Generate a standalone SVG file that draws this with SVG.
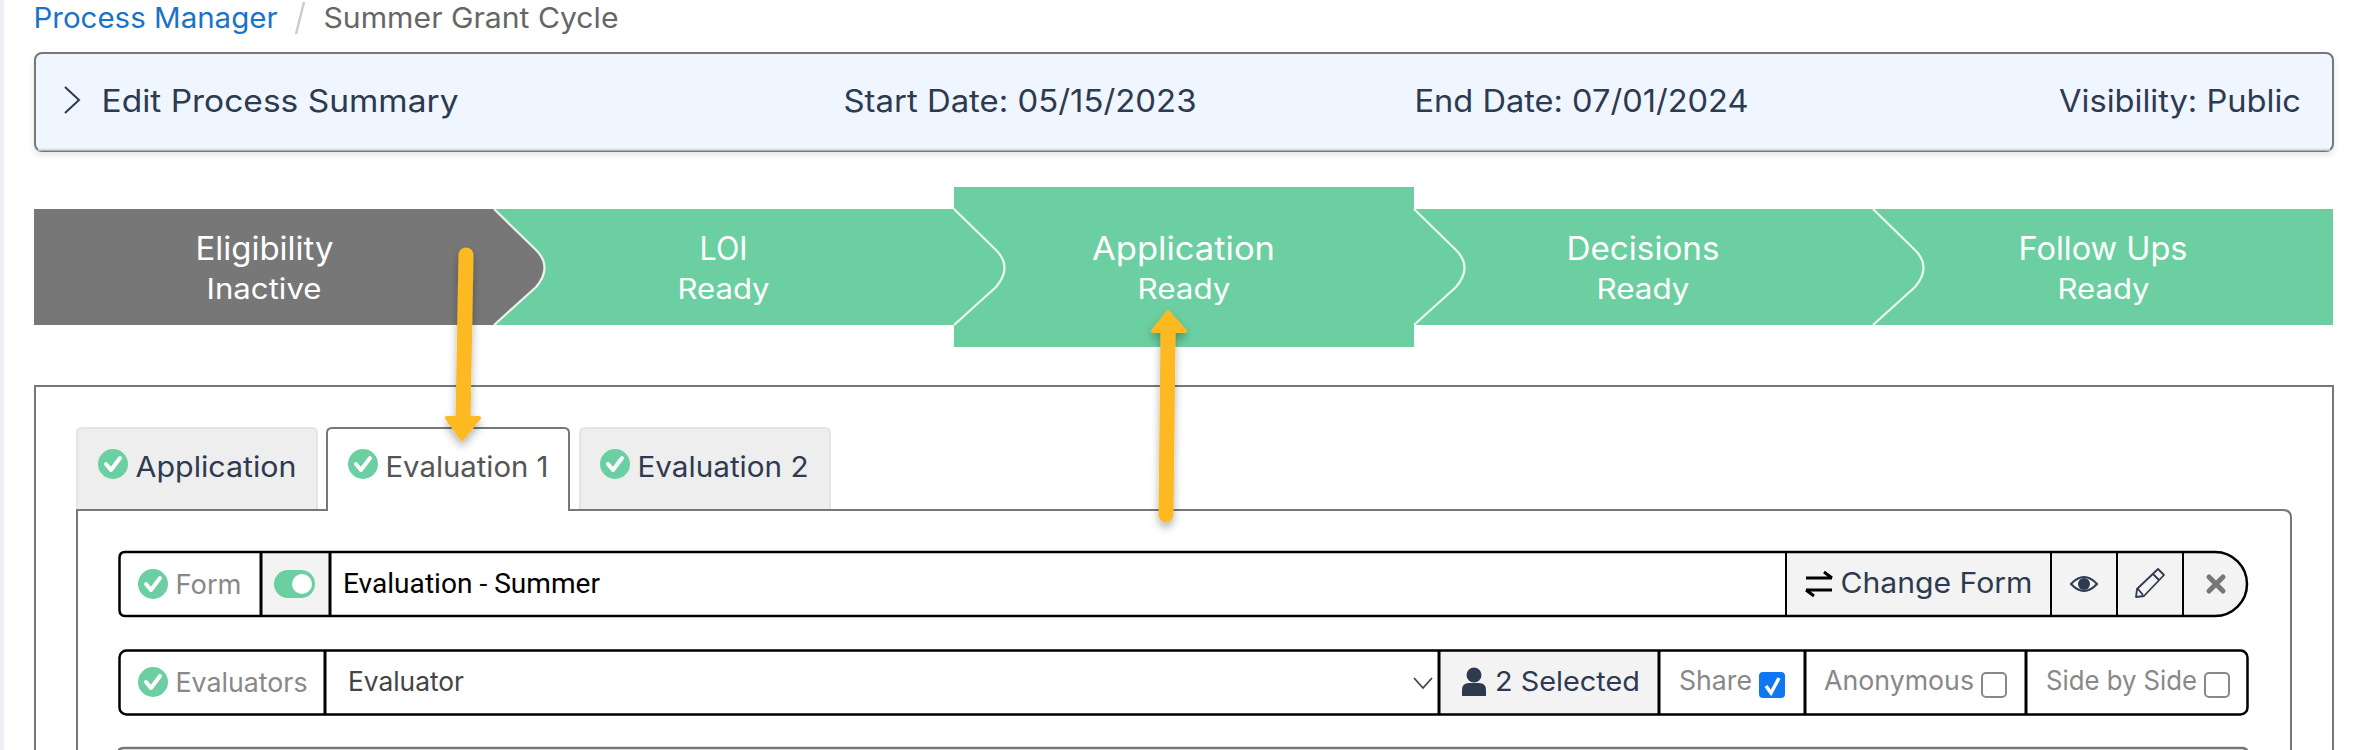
<svg xmlns="http://www.w3.org/2000/svg" width="2364" height="750" viewBox="0 0 2364 750">
<style>
text{font-family:"Inter","Open Sans","Liberation Sans",sans-serif}
.dark{fill:#2d3a4f}
.hdr{font-size:31px}
.step{fill:#fff;font-size:32px}
.sub{fill:#fff;font-size:28px}
.tab{font-size:28px}
.lbl{fill:#888;font-size:27px}
.cell{fill:#f3f3f3}
.sep{stroke:#000;stroke-width:3;fill:none}
.sept{stroke:#000;stroke-width:2;fill:none}
.chev{stroke:#fff;stroke-width:2.2;fill:none;opacity:.85}
.ck{fill:#6ccfa1}
.tick{stroke:#fff;stroke-width:4;fill:none;stroke-linecap:round;stroke-linejoin:round}
.arrow{stroke:#fdb924;stroke-width:15;stroke-linecap:round;fill:none}
.head{fill:#fdb924;stroke:#fdb924;stroke-width:4;stroke-linejoin:round}
</style>
<defs>
<filter id="sh" x="-100%" y="-20%" width="300%" height="140%"><feDropShadow dx="0" dy="5" stdDeviation="4" flood-color="#000" flood-opacity=".3"/></filter>
<filter id="ps" x="-2%" y="-10%" width="104%" height="125%"><feDropShadow dx="0" dy="3" stdDeviation="3" flood-color="#000" flood-opacity=".1"/></filter>
<g id="check"><circle r="15" class="ck"/><path class="tick" d="M-7 0L-2 6L7 -6"/></g>
</defs>
<rect width="2364" height="750" fill="#fff"/>
<rect width="4" height="750" fill="#eeeef5"/>

<g id="breadcrumb">
<text x="33.500" y="28" font-size="28" fill="#1a73c9" textLength="244" lengthAdjust="spacingAndGlyphs">Process Manager</text>
<path d="M304 2L296 34" stroke="#ccc" stroke-width="2.500"/>
<text x="323.500" y="28" font-size="28" fill="#666" textLength="295" lengthAdjust="spacingAndGlyphs">Summer Grant Cycle</text>
</g>

<g id="summary-panel">
<rect x="35" y="53" width="2298" height="98" rx="7" fill="#eff6ff" stroke="#777" stroke-width="2" filter="url(#ps)"/>
<path d="M38 149.500H2330" stroke="#dfe1e5" stroke-width="2"/>
<path d="M65 87L79 100L65 113" fill="none" stroke="#2d3a4f" stroke-width="2"/>
<text class="dark hdr" x="101.500" y="112" textLength="357" lengthAdjust="spacingAndGlyphs">Edit Process Summary</text>
<text class="dark hdr" x="843.500" y="112" textLength="353" lengthAdjust="spacingAndGlyphs">Start Date: 05/15/2023</text>
<text class="dark hdr" x="1414.500" y="112" textLength="334" lengthAdjust="spacingAndGlyphs">End Date: 07/01/2024</text>
<text class="dark hdr" x="2059" y="112" textLength="242" lengthAdjust="spacingAndGlyphs">Visibility: Public</text>
</g>

<g id="stepper">
<rect x="494" y="209" width="1839" height="116" fill="#6ccfa1"/>
<rect x="954" y="187" width="460" height="160" fill="#6ccfa1"/>
<path d="M34 209H494L536 250Q553 267 536 287L494 325H34Z" fill="#777"/>
<path class="chev" d="M954 209L996 250Q1013 267 996 287L954 325"/>
<path class="chev" d="M1414 209L1456 250Q1473 267 1456 287L1414 325"/>
<path class="chev" d="M1873 209L1915 250Q1932 267 1915 287L1873 325"/>
<path class="chev" d="M494 209L536 250Q553 267 536 287L494 325"/>
</g>
<g id="step-eligibility"><text class="step" x="195.500" y="260" textLength="138" lengthAdjust="spacingAndGlyphs">Eligibility</text><text class="sub" x="206.500" y="299" textLength="115" lengthAdjust="spacingAndGlyphs">Inactive</text></g>
<g id="step-loi"><text class="step" x="699.500" y="260" textLength="48" lengthAdjust="spacingAndGlyphs">LOI</text><text class="sub" x="677.500" y="299" textLength="92" lengthAdjust="spacingAndGlyphs">Ready</text></g>
<g id="step-application"><text class="step" x="1092" y="260" textLength="183" lengthAdjust="spacingAndGlyphs">Application</text><text class="sub" x="1137.500" y="299" textLength="93" lengthAdjust="spacingAndGlyphs">Ready</text></g>
<g id="step-decisions"><text class="step" x="1566.500" y="260" textLength="153" lengthAdjust="spacingAndGlyphs">Decisions</text><text class="sub" x="1596.500" y="299" textLength="93" lengthAdjust="spacingAndGlyphs">Ready</text></g>
<g id="step-followups"><text class="step" x="2018.500" y="260" textLength="169" lengthAdjust="spacingAndGlyphs">Follow Ups</text><text class="sub" x="2057.500" y="299" textLength="92" lengthAdjust="spacingAndGlyphs">Ready</text></g>

<g id="main-panel" fill="none" stroke="#777" stroke-width="2">
<path d="M35 760V386H2333V760" fill="#fff"/>
</g>

<g id="tabs">
<path d="M77 510V433Q77 428 82 428H312Q317 428 317 433V510Z" fill="#eee" stroke="#e4e4e4" stroke-width="2"/>
<path d="M580 510V433Q580 428 585 428H825Q830 428 830 433V510Z" fill="#eee" stroke="#e4e4e4" stroke-width="2"/>
<path d="M77 760V510H327M569 510H2283Q2291 510 2291 518V760" fill="none" stroke="#777" stroke-width="2"/>
<path d="M327 511V433Q327 428 332 428H564Q569 428 569 433V511" fill="#fff" stroke="#777" stroke-width="2"/>
<rect x="328" y="505" width="240" height="10" fill="#fff"/>
</g>
<g id="tab-application"><use href="#check" x="113" y="464"/><text class="dark tab" x="135.500" y="477" textLength="161" lengthAdjust="spacingAndGlyphs">Application</text></g>
<g id="tab-evaluation-1"><use href="#check" x="363" y="464"/><text class="tab" fill="#555" x="385.500" y="477" textLength="163" lengthAdjust="spacingAndGlyphs">Evaluation 1</text></g>
<g id="tab-evaluation-2"><use href="#check" x="615" y="464"/><text class="dark tab" x="637.500" y="477" textLength="171" lengthAdjust="spacingAndGlyphs">Evaluation 2</text></g>

<g id="form-row">
<path d="M125 551H2215A33 33 0 0 1 2215 617H125Q119 617 119 611V557Q119 551 125 551Z" fill="#fff"/>
<rect x="261" y="552" width="68" height="64" class="cell"/>
<path class="cell" d="M1786 552H2215A32 32 0 0 1 2215 616H1786Z"/>
<path d="M125 552H2215A32 32 0 0 1 2215 616H125Q119.500 616 119.500 610V558Q119.500 552 125 552Z" fill="none" stroke="#000" stroke-width="2.500"/>
<path class="sep" d="M261 552V616M330 552V616"/>
<path class="sept" d="M1786 552V616M2051 552V616M2117 552V616M2183 552V616"/>
<use href="#check" x="153" y="584"/>
<text class="lbl" x="175.500" y="594" textLength="66" lengthAdjust="spacingAndGlyphs">Form</text>
<rect x="274" y="570" width="41" height="28" rx="14" fill="#6ccfa1"/>
<circle cx="302" cy="584" r="10" fill="#fff"/>
<text x="343" y="593" font-size="27" fill="#000" style="font-family:Roboto,'Liberation Sans',sans-serif" textLength="257" lengthAdjust="spacingAndGlyphs">Evaluation - Summer</text>
<path d="M1806 578H1832M1824 572L1832 578M1832 590H1806M1814 596L1806 590" fill="none" stroke="#000" stroke-width="3"/>
<text class="dark" x="1840.500" y="593" font-size="28" textLength="192" lengthAdjust="spacingAndGlyphs">Change Form</text>
<path d="M2071 584Q2084 570 2097 584Q2084 598 2071 584Z" fill="none" stroke="#2d3a4f" stroke-width="2"/>
<circle cx="2084" cy="584" r="6" fill="#2d3a4f"/>
<path d="M2158 569L2164 575L2144 596L2136 597L2137 589ZM2153 574L2159 580M2138 589L2143 595" fill="none" stroke="#2d3a4f" stroke-width="1.800" stroke-linejoin="round"/>
<path d="M2209 577L2223 591M2223 577L2209 591" stroke="#777" stroke-width="5" stroke-linecap="round"/>
</g>

<g id="evaluators-row">
<rect x="1439" y="650" width="220" height="64" class="cell"/>
<rect x="119.500" y="650.500" width="2128" height="64" rx="7" fill="none" stroke="#000" stroke-width="2.500"/>
<path class="sep" d="M325 650V714M1439 650V714M1659 650V714M1805 650V714M2026 650V714"/>
<use href="#check" x="153" y="682"/>
<text class="lbl" x="175.500" y="692" textLength="132" lengthAdjust="spacingAndGlyphs">Evaluators</text>
<text x="348" y="691" font-size="27" fill="#444" textLength="116" lengthAdjust="spacingAndGlyphs">Evaluator</text>
<path d="M1414 678L1423 688L1432 678" fill="none" stroke="#444" stroke-width="1.800"/>
<circle cx="1474" cy="675" r="7.500" fill="#2d3a4f"/>
<path d="M1462 696V690Q1462 683 1469 683H1479Q1486 683 1486 690V696Z" fill="#2d3a4f"/>
<text class="dark" x="1495" y="691" font-size="27" textLength="145" lengthAdjust="spacingAndGlyphs">2 Selected</text>
<text class="lbl" x="1679" y="690" textLength="73" lengthAdjust="spacingAndGlyphs">Share</text>
<rect x="1759" y="672" width="26" height="26" rx="4" fill="#0d78f2"/>
<path d="M1766 686L1771 693L1779 678" fill="none" stroke="#fff" stroke-width="3.500"/>
<text class="lbl" x="1824" y="690" textLength="150" lengthAdjust="spacingAndGlyphs">Anonymous</text>
<rect x="1982" y="673" width="24" height="24" rx="4" fill="#fff" stroke="#888" stroke-width="2"/>
<text class="lbl" x="2046" y="690" textLength="151" lengthAdjust="spacingAndGlyphs">Side by Side</text>
<rect x="2205" y="673" width="24" height="24" rx="4" fill="#fff" stroke="#888" stroke-width="2"/>
</g>

<g id="next-row">
<path d="M118 755V754Q118 748 124 748H2242Q2248 748 2248 755" fill="none" stroke="#777" stroke-width="2.500"/>
</g>

<g id="connectors" filter="url(#sh)">
<path class="arrow" d="M466 255L463 420"/>
<path class="head" d="M447 418L479 418L462 439Z"/>
<path class="arrow" d="M1166 515L1168 335"/>
<path class="head" d="M1153 331L1185 331L1168 312Z"/>
</g>
</svg>
